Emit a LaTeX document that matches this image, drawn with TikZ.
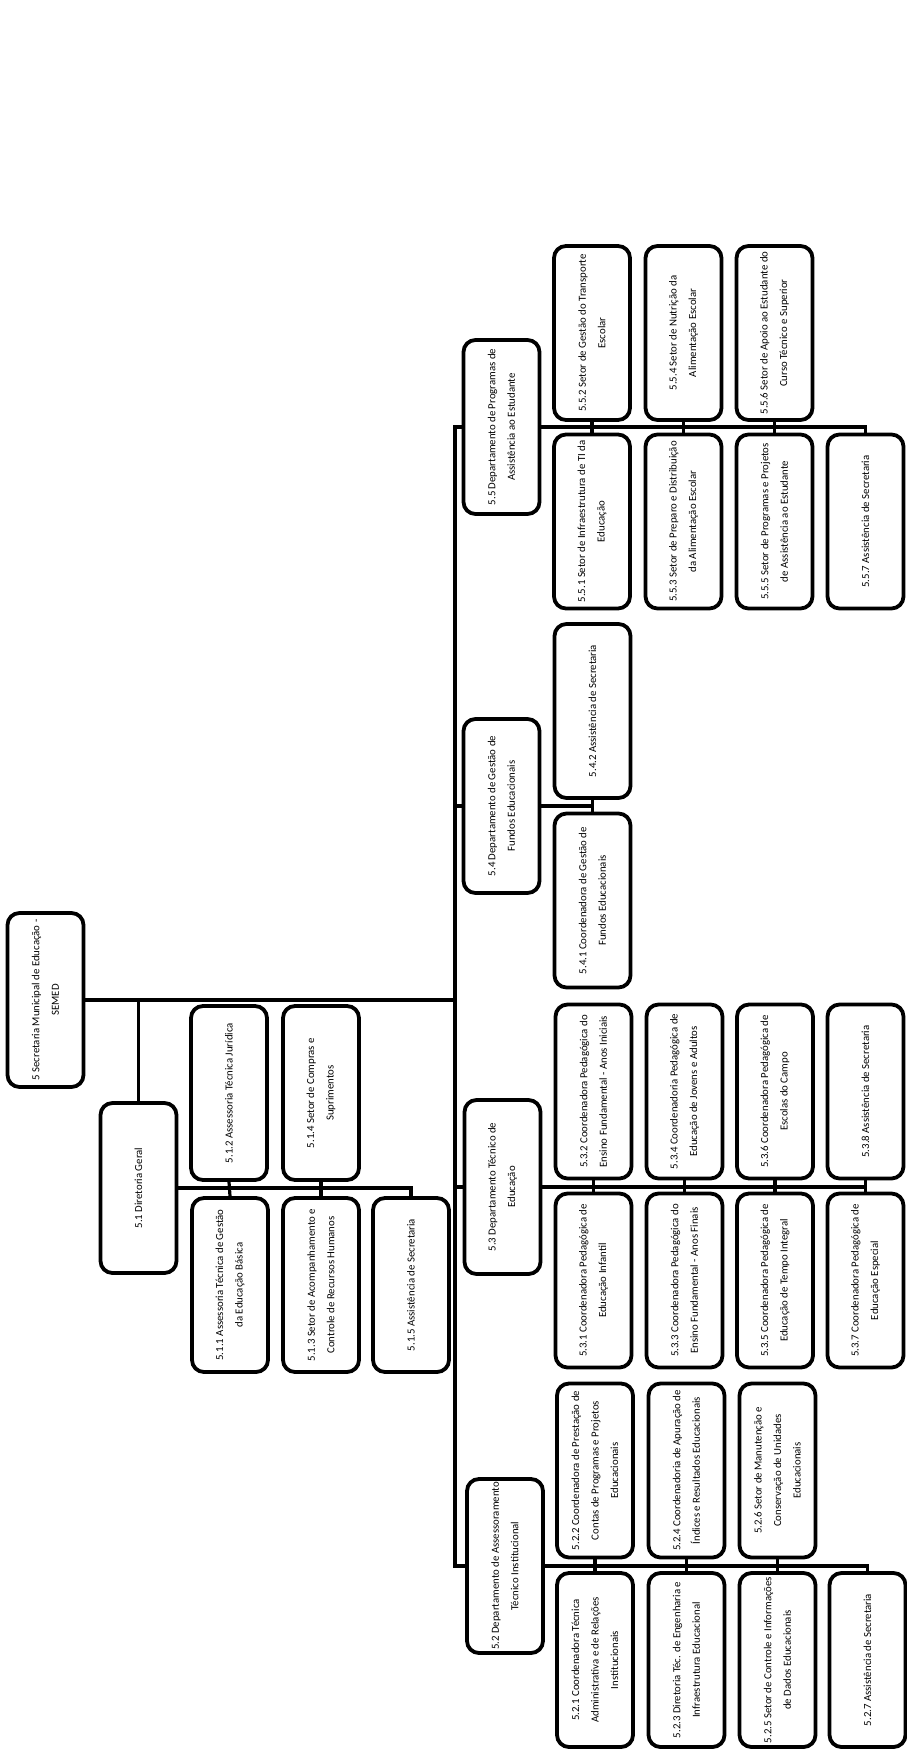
\documentclass[tikz,border=0pt]{standalone}
\usepackage{fontspec}
\setmainfont{Carlito}
\usepackage{tikz}
\usetikzlibrary{calc,positioning,shapes}
\newcommand{\unitfont}{\fontsize{10.8}{19.5}\selectfont}
\tikzset{
	unidade/.style={
		rectangle,
		rounded corners=12pt,
		draw=black, line width=3.8pt,
		rotate=90,
		minimum width=174pt,
		minimum height=76pt,
		inner sep=1pt,
		align=center,
		font=\unitfont},
	ligacao/.style={draw, line width=3.2pt},
}

\begin{document}
\begin{tikzpicture}
	[x=1pt, y=-1pt]
\useasboundingbox (0,0) rectangle (906,1752);

\node[unidade] (semed) at (45.5,1000) {5 Secretaria Municipal de Educação -\\SEMED};
\coordinate (tronco) at (455,1000);

% 5.1
\node[unidade, minimum width=170pt] (d51) at (138.5,1188) {5.1 Diretoria Geral};
\node[unidade] (s512) at (229,1093) {5.1.2 Assessoria Técnica Jurídica};
\node[unidade] (s514) at (321,1093) {5.1.4 Setor de Compras e\\Suprimentos};
\node[unidade] (s511) at (230,1285) {5.1.1 Assessoria Técnica de Gestão\\da Educação Básica};
\node[unidade] (s513) at (321,1285) {5.1.3 Setor de Acompanhamento e\\Controle de Recursos Humanos};
\node[unidade] (s515) at (411,1285) {5.1.5 Assistência de Secretaria};

% 5.5
\node[unidade] (d55) at (501.5,427) {5.5 Departamento de Programas de\\Assistência ao Estudante};
\node[unidade] (c552) at (592,333) {5.5.2 Setor de Gestão do Transporte\\Escolar};
\node[unidade] (c554) at (683.5,333) {5.5.4 Setor de Nutrição da\\Alimentação Escolar};
\node[unidade] (c556) at (774.5,333) {5.5.6 Setor de Apoio ao Estudante do\\Curso Técnico e Superior};
\node[unidade] (c551) at (592,521.5) {5.5.1 Setor de Infraestrutura de TI da\\Educação};
\node[unidade] (c553) at (683.5,521.5) {5.5.3 Setor de Preparo e Distribuição\\da Alimentação Escolar};
\node[unidade] (c555) at (774.5,521.5) {5.5.5 Setor de Programas e Projetos\\de Assistência ao Estudante};
\node[unidade] (c557) at (865.5,521.5) {5.5.7 Assistência de Secretaria};

% 5.4
\node[unidade] (d54) at (501.5,806) {5.4 Departamento de Gestão de\\Fundos Educacionais};
\node[unidade] (c542) at (592.5,711) {5.4.2 Assistência de Secretaria};
\node[unidade] (c541) at (592.5,900.5) {5.4.1 Coordenadora de Gestão de\\Fundos Educacionais};

% 5.3
\node[unidade] (d53) at (502.5,1187) {5.3 Departamento Técnico de\\Educação};
\node[unidade] (c532) at (593.5,1091.5) {5.3.2 Coordenadora Pedagógica do\\Ensino Fundamental - Anos Iniciais};
\node[unidade] (c534) at (684.5,1091.5) {5.3.4 Coordenadoria Pedagógica de\\Educação de Jovens e Adultos};
\node[unidade] (c536) at (775,1091.5) {5.3.6 Coordenadora Pedagógica de\\Escolas do Campo};
\node[unidade] (c538) at (865.5,1091.5) {5.3.8 Assistência de Secretaria};
\node[unidade] (c531) at (593.5,1280.5) {5.3.1 Coordenadora Pedagógica de\\Educação Infantil};
\node[unidade] (c533) at (684.5,1280.5) {5.3.3 Coordenadora Pedagógica do\\Ensino Fundamental - Anos Finais};
\node[unidade] (c535) at (775,1280.5) {5.3.5 Coordenadora Pedagógica de\\Educação de Tempo Integral};
\node[unidade] (c537) at (865.5,1280.5) {5.3.7 Coordenadora Pedagógica de\\Educação Especial};

% 5.2
\node[unidade] (d52) at (505,1566) {5.2 Departamento de Assessoramento\\Técnico Institucional};
\node[unidade] (c522) at (595,1470.5) {5.2.2 Coordenadora de Prestação de\\Contas de Programas e Projetos\\Educacionais};
\node[unidade] (c524) at (686.5,1470.5) {5.2.4 Coordenadoria de Apuração de\\Índices e Resultados Educacionais};
\node[unidade] (c526) at (777.5,1470.5) {5.2.6 Setor de Manutenção e\\Conservação de Unidades\\Educacionais};
\node[unidade] (c521) at (595,1660) {5.2.1 Coordenadora Técnica\\Administrativa e de Relações\\Institucionais};
\node[unidade] (c523) at (686.5,1660) {5.2.3 Diretoria Téc. de Engenharia e\\Infraestrutura Educacional};
\node[unidade] (c525) at (777.5,1660) {5.2.5 Setor de Controle e Informações\\de Dados Educacionais};
\node[unidade] (c527) at (867.5,1660) {5.2.7 Assistência de Secretaria};

% tronco
\draw[ligacao] (semed.south) -- (tronco);
\draw[ligacao] (d55.north) -| (tronco) |- (d52.north);
\draw[ligacao] (tronco) |- (d54.north);
\draw[ligacao] (tronco) |- (d53.north);
\draw[ligacao] (d51.east) -- (d51.east |- semed.south);

\draw[ligacao] (d51.south) -| (s515.east);
\draw[ligacao] (s512.west) -- (s511.east);
\draw[ligacao] (s514.west) -- (s513.east);

\draw[ligacao] (d55.south) -| (c557.east);
\draw[ligacao] (c552.west) -- (c551.east);
\draw[ligacao] (c554.west) -- (c553.east);
\draw[ligacao] (c556.west) -- (c555.east);

\draw[ligacao] (d54.south) -- (d54.south -| c541);
\draw[ligacao] (c542.west) -- (c541.east);

\draw[ligacao] (d53.south) -| (c538.west);
\draw[ligacao] (c532.west) -- (c531.east);
\draw[ligacao] (c534.west) -- (c533.east);
\draw[ligacao] (c536.west) -- (c535.east);
\draw[ligacao] (c538.west) -- (c537.east);

\draw[ligacao] (d52.south) -| (c527.east);
\draw[ligacao] (c522.west) -- (c521.east);
\draw[ligacao] (c524.west) -- (c523.east);
\draw[ligacao] (c526.west) -- (c525.east);
\end{tikzpicture}
\end{document}
